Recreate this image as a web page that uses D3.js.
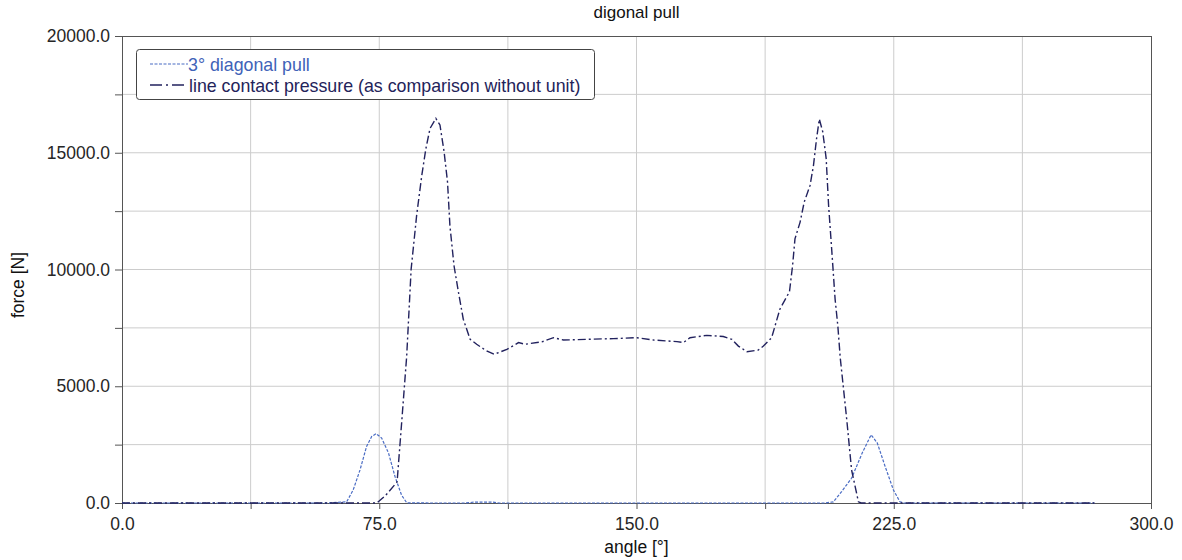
<!DOCTYPE html>
<html>
<head>
<meta charset="utf-8">
<script src="https://cdn.jsdelivr.net/npm/d3@7/dist/d3.min.js"></script>
<style>
  body { margin: 0; background: #fff; }
  svg { font-family: "Liberation Sans", Arial, sans-serif; }
</style>
</head>
<body>
<svg id="chart" width="1182" height="560"></svg>
<script>
const title = "digonal pull"
const xLabel = "angle [°]"
const yLabel = "force [N]"
const seriesNames = ["3° diagonal pull", "line contact pressure (as comparison without unit)"]

// 3° diagonal pull  [angle, force]
const diagonalPull = [
  [0, 0], [20, 0], [40, 0], [60, 0], [65.5, 50], [67.4, 560], [69.4, 1420], [71.3, 2420],
  [72.8, 2850], [74.1, 2970], [75.7, 2780], [77.7, 2140], [79.6, 1130], [81.5, 340],
  [83, 10], [90, 0], [100, 0], [103, 40], [108, 40], [110, 0], [150, 0], [180, 0],
  [205, 0], [207.4, 50], [209.8, 490], [212.7, 1060], [215.8, 2140], [218.4, 2920],
  [220.2, 2570], [222.5, 1560], [224.9, 560], [226.8, 50], [228, 0], [240, 0],
  [260, 0], [283.5, 0]
]

// line contact pressure
const contactPressure = [
  [0, 0], [40, 0], [74.3, 0], [76.7, 300], [80.2, 900], [81.6, 3570], [83, 6290],
  [84.3, 10020], [85.9, 12315], [87.4, 14030], [88.6, 15180], [89.8, 16040],
  [91.5, 16470], [92.7, 16190], [93.9, 15050], [94.9, 13750], [95.6, 11880],
  [96.8, 10160], [98.1, 9020], [99.5, 7870], [101.5, 7010], [103.4, 6800],
  [106.3, 6510], [108.5, 6370], [112.2, 6580], [115.6, 6870], [117.5, 6800],
  [122.4, 6900], [125.8, 7080], [128.7, 6980], [135.5, 7010], [143.3, 7040],
  [150.1, 7080], [155, 6980], [161.8, 6910], [163.7, 6870], [165.6, 7080],
  [170.5, 7180], [175.3, 7130], [177.8, 7010], [179.7, 6720], [182.2, 6480],
  [185.5, 6550], [187, 6720], [189.4, 7080], [191.8, 8300], [194.6, 9050],
  [195.5, 10160], [196.2, 11310], [197.7, 12030], [198.9, 12890], [200.6, 13600],
  [201.6, 14460], [202.5, 15610], [203.3, 16440], [204.3, 15900], [205.3, 14750],
  [206, 12750], [206.9, 10880], [207.9, 8730], [208.7, 7580], [209.4, 6220],
  [211.3, 3570], [212.7, 1420], [214.7, 50], [215.5, 0], [240, 0], [260, 0], [283.5, 0]
]

const xTicks = [0, 75, 150, 225, 300]
const xMinor = [0, 37.5, 75, 112.5, 150, 187.5, 225, 262.5, 300]
const yTicks = [0, 5000, 10000, 15000, 20000]
const yMinor = [0, 2500, 5000, 7500, 10000, 12500, 15000, 17500, 20000]

const svg = d3.select("#chart")
const mLeft = 122, mRight = 1151, mTop = 36, mBottom = 503

const x = d3.scaleLinear().domain([0, 300]).range([mLeft, mRight])
const y = d3.scaleLinear().domain([0, 20000]).range([mBottom, mTop])

// grid
svg.append("g").selectAll("line").data(xMinor.slice(1, -1)).join("line")
  .attr("x1", d => x(d)).attr("x2", d => x(d)).attr("y1", mTop).attr("y2", mBottom)
  .attr("stroke", "#cccccc").attr("stroke-width", 1)
svg.append("g").selectAll("line").data(yMinor.slice(1, -1)).join("line")
  .attr("x1", mLeft).attr("x2", mRight).attr("y1", d => y(d)).attr("y2", d => y(d))
  .attr("stroke", "#cccccc").attr("stroke-width", 1)

// frame top / right
svg.append("line").attr("x1", mLeft).attr("x2", mRight).attr("y1", mTop + 0.5).attr("y2", mTop + 0.5)
  .attr("stroke", "#555")
svg.append("line").attr("x1", mRight + 0.5).attr("x2", mRight + 0.5).attr("y1", mTop).attr("y2", mBottom)
  .attr("stroke", "#555")

// axes
const xAxis = svg.append("g").attr("transform", `translate(0,${mBottom})`)
  .call(d3.axisBottom(x).tickValues(xMinor).tickSize(6)
    .tickFormat(d => xTicks.includes(d) ? d.toFixed(1) : ""))
const yAxis = svg.append("g").attr("transform", `translate(${mLeft},0)`)
  .call(d3.axisLeft(y).tickValues(yMinor).tickSize(7)
    .tickFormat(d => yTicks.includes(d) ? d.toFixed(1) : ""))
for (const a of [xAxis, yAxis]) {
  a.select(".domain").attr("stroke", "#555")
  a.selectAll(".tick line").attr("stroke", "#555")
  a.selectAll(".tick text").attr("fill", "#262626").style("font-size", "17.5px")
    .style("font-family", "'Liberation Sans', Arial, sans-serif")
}
xAxis.selectAll(".tick text").attr("y", 27).attr("dy", 0)
yAxis.selectAll(".tick text").attr("x", -12)

// lines
const line = d3.line().x(d => x(d[0])).y(d => y(d[1]))
svg.append("path").datum(diagonalPull).attr("d", line)
  .attr("fill", "none").attr("stroke", "#4a6cc4").attr("stroke-width", 1.2)
  .attr("stroke-dasharray", "3,1.5")
svg.append("path").datum(contactPressure).attr("d", line)
  .attr("fill", "none").attr("stroke", "#22225e").attr("stroke-width", 1.4)
  .attr("stroke-dasharray", "8,3,2,3")

// titles
svg.append("text").attr("x", (mLeft + mRight) / 2).attr("y", 18).attr("text-anchor", "middle")
  .style("font-size", "17px").attr("fill", "#111").text(title)
svg.append("text").attr("x", (mLeft + mRight) / 2).attr("y", 553).attr("text-anchor", "middle")
  .style("font-size", "17.5px").attr("fill", "#111").text(xLabel)
svg.append("text").attr("transform", `translate(24,285) rotate(-90)`)
  .attr("text-anchor", "middle").style("font-size", "17.5px").attr("fill", "#111").text(yLabel)

// legend
const lg = svg.append("g")
lg.append("rect").attr("x", 136.5).attr("y", 49.5).attr("width", 458).attr("height", 50)
  .attr("rx", 3).attr("fill", "#fff").attr("stroke", "#444")
const colors = ["#4a6cc4", "#22225e"]
const dashes = ["3,1.5", "8,3,2,3"]
seriesNames.forEach((n, i) => {
  const base = 71 + i * 21
  lg.append("line").attr("x1", 150).attr("x2", i ? 186 : 188).attr("y1", base - 7).attr("y2", base - 7)
    .attr("stroke", colors[i]).attr("stroke-width", i ? 1.6 : 1.2).attr("stroke-dasharray", i ? "12,4,2,4" : dashes[i])
  lg.append("text").attr("x", i ? 189 : 188).attr("y", base).style("font-size", "17.8px")
    .attr("fill", i ? "#23235a" : "#4062b8").text(n)
})
</script>
</body>
</html>
